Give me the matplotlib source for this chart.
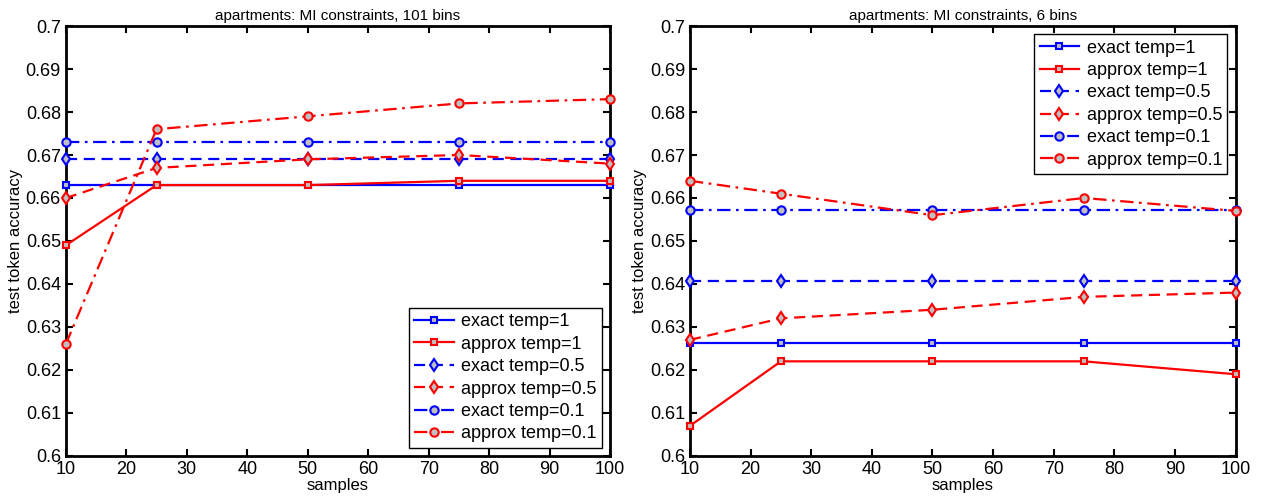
import matplotlib
matplotlib.use('Agg')
import matplotlib.pyplot as plt

plt.rcParams['font.family'] = ['Liberation Sans', 'DejaVu Sans']

samples = [10, 25, 50, 75, 100]

# 101 bins
exact1_101 = [0.663, 0.663, 0.663, 0.663, 0.663]
approx1_101 = [0.649, 0.663, 0.663, 0.664, 0.664]
exact05_101 = [0.669, 0.669, 0.669, 0.669, 0.669]
approx05_101 = [0.660, 0.667, 0.669, 0.670, 0.668]
exact01_101 = [0.673, 0.673, 0.673, 0.673, 0.673]
approx01_101 = [0.626, 0.676, 0.679, 0.682, 0.683]

# 6 bins
exact1_6 = [0.6263, 0.6263, 0.6263, 0.6263, 0.6263]
approx1_6 = [0.607, 0.622, 0.622, 0.622, 0.619]
exact05_6 = [0.6407, 0.6407, 0.6407, 0.6407, 0.6407]
approx05_6 = [0.627, 0.632, 0.634, 0.637, 0.638]
exact01_6 = [0.6573, 0.6573, 0.6573, 0.6573, 0.6573]
approx01_6 = [0.664, 0.661, 0.656, 0.660, 0.657]

labels = ['exact temp=1', 'approx temp=1', 'exact temp=0.5',
          'approx temp=0.5', 'exact temp=0.1', 'approx temp=0.1']
styles = [('b', '-', 's'), ('r', '-', 's'), ('b', (0, (5, 3)), 'd'),
          ('r', (0, (5, 3)), 'd'), ('b', (0, (6, 2.5, 1.2, 2.5)), 'o'),
          ('r', (0, (6, 2.5, 1.2, 2.5)), 'o')]

fig = plt.figure(figsize=(12.66, 5.01), dpi=100)
ax1 = fig.add_axes([0.052, 0.090, 0.430, 0.858])
ax2 = fig.add_axes([0.545, 0.090, 0.431, 0.858])

panels = [
    (ax1, [exact1_101, approx1_101, exact05_101, approx05_101, exact01_101, approx01_101],
     'apartments: MI constraints, 101 bins', 'lower right'),
    (ax2, [exact1_6, approx1_6, exact05_6, approx05_6, exact01_6, approx01_6],
     'apartments: MI constraints, 6 bins', 'upper right'),
]

for ax, series, title, loc in panels:
    for ys, lab, (c, ls, m) in zip(series, labels, styles):
        ax.plot(samples, ys, color=c, linestyle=ls, marker=m, lw=1.6,
                markersize=6 if m != 's' else 5, markerfacecolor='#c0c0c0',
                markeredgecolor=c, markeredgewidth=1.5, label=lab,
                clip_on=False, zorder=3)
    ax.set_xlim(10, 100)
    ax.set_ylim(0.6, 0.7)
    ax.set_xticks(range(10, 101, 10))
    ax.set_yticks([0.6 + 0.01 * i for i in range(11)])
    ax.set_yticklabels(['0.6', '0.61', '0.62', '0.63', '0.64', '0.65',
                        '0.66', '0.67', '0.68', '0.69', '0.7'])
    ax.tick_params(direction='in', top=True, right=True, labelsize=13,
                   width=1.5, length=5)
    for sp in ax.spines.values():
        sp.set_linewidth(2)
    ax.set_title(title, fontsize=11, pad=4)
    ax.set_xlabel('samples', fontsize=12, labelpad=0)
    ax.set_ylabel('test token accuracy', fontsize=12, labelpad=2)
    leg = ax.legend(loc=loc, fontsize=13, fancybox=False, framealpha=1,
                    edgecolor='black', borderpad=0.3, labelspacing=0.3,
                    handlelength=2.2, handletextpad=0.4, borderaxespad=0.45,
                    numpoints=1)
    leg.get_frame().set_linewidth(1)
    leg.set_zorder(5)

fig.savefig('out.png', dpi=100)
